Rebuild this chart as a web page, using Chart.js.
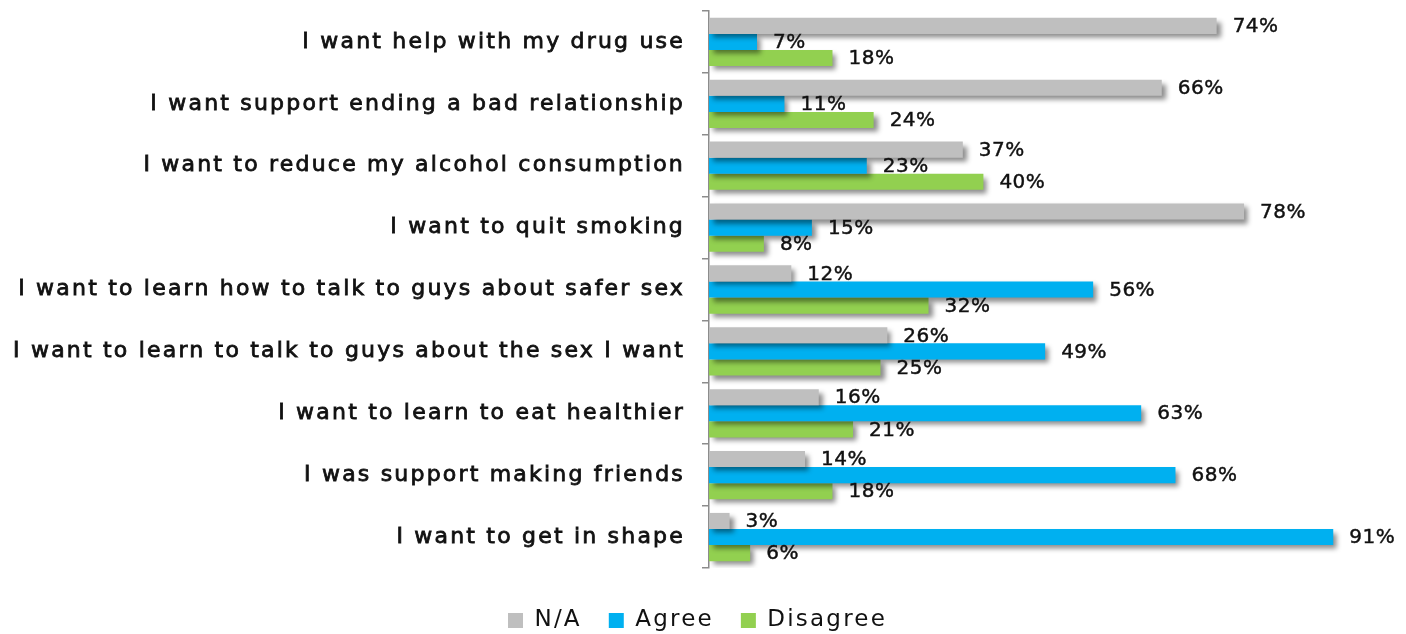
<!DOCTYPE html>
<html>
<head>
<meta charset="utf-8">
<script src="https://cdn.jsdelivr.net/npm/chart.js@4"></script>
<style>
  html, body { margin: 0; padding: 0; background: #fff; overflow: hidden; }
  #wrap { width: 1406px; height: 642px; }
</style>
</head>
<body>
<div id="wrap"><canvas id="wantsChart"></canvas></div>
<script>
// Survey answers per statement (percent)
const statements = [
  "I want help with my drug use",
  "I want support ending a bad relationship",
  "I want to reduce my alcohol consumption",
  "I want to quit smoking",
  "I want to learn how to talk to guys about safer sex",
  "I want to learn to talk to guys about the sex I want",
  "I want to learn to eat healthier",
  "I was support making friends",
  "I want to get in shape",
];
const naValues = [74, 66, 37, 78, 12, 26, 16, 14, 3];
const agreeValues = [7, 11, 23, 15, 56, 49, 63, 68, 91];
const disagreeValues = [18, 24, 40, 8, 32, 25, 21, 18, 6];

const FONT = "'DejaVu Sans', sans-serif";
const INK = "#111";

// wide, airy lettering for axis and legend text
const wideText = {
  id: "wideText",
  beforeInit(chart) { chart.ctx.letterSpacing = "2.2px"; },
  beforeUpdate(chart) { chart.ctx.letterSpacing = "2.2px"; },
  beforeDraw(chart) { chart.ctx.letterSpacing = "2.2px"; },
};

// soft drop shadow under every bar
const barShadow = {
  id: "barShadow",
  beforeDatasetDraw(chart) {
    const c = chart.ctx;
    c.save();
    c.shadowColor = "rgba(0,0,0,0.45)";
    c.shadowBlur = 5;
    c.shadowOffsetX = 4;
    c.shadowOffsetY = 4;
  },
  afterDatasetDraw(chart) {
    chart.ctx.restore();
  },
};

// percent labels to the right of each bar
const valueLabels = {
  id: "valueLabels",
  afterDatasetsDraw(chart) {
    const c = chart.ctx;
    c.save();
    c.letterSpacing = "0.5px";
    c.font = "20px " + FONT;
    c.fillStyle = INK;
    c.strokeStyle = INK;
    c.lineWidth = 0.45;
    c.textAlign = "left";
    c.textBaseline = "middle";
    chart.data.datasets.forEach((ds, i) => {
      chart.getDatasetMeta(i).data.forEach((bar, j) => {
        const txt = ds.data[j] + "%";
        c.fillText(txt, bar.x + 16, bar.y + 1);
        c.strokeText(txt, bar.x + 16, bar.y + 1);
      });
    });
    c.restore();
  },
};

new Chart(document.getElementById("wantsChart"), {
  type: "bar",
  data: {
    labels: statements,
    datasets: [
      { label: "N/A", data: naValues, backgroundColor: "#bfbfbf" },
      { label: "Agree", data: agreeValues, backgroundColor: "#00b0f0" },
      { label: "Disagree", data: disagreeValues, backgroundColor: "#92d050" },
    ],
  },
  options: {
    indexAxis: "y",
    responsive: true,
    maintainAspectRatio: false,
    animation: false,
    categoryPercentage: 0.78,
    barPercentage: 1,
    layout: { padding: { top: 11, right: 11, bottom: 0, left: 0 } },
    plugins: {
      legend: {
        position: "bottom",
        labels: {
          boxWidth: 15,
          boxHeight: 15,
          padding: 27,
          color: INK,
          font: { family: FONT, size: 23 },
        },
      },
      tooltip: { enabled: false },
    },
    scales: {
      x: {
        min: 0,
        max: 100,
        grid: { display: false },
        border: { display: false },
        ticks: { display: false },
        afterFit(scale) { scale.height = 14; },
      },
      y: {
        afterFit(scale) {
          scale.width = 709;
          scale.paddingTop = 0;
          scale.paddingBottom = 0;
        },
        border: { display: true, color: "#8c8c8c", width: 1.5 },
        grid: { drawOnChartArea: false, tickLength: 7, color: "#8c8c8c", lineWidth: 1.5 },
        ticks: {
          padding: 17,
          color: INK,
          textStrokeColor: INK,
          textStrokeWidth: 0.8,
          font: { family: FONT, size: 22 },
        },
      },
    },
  },
  plugins: [wideText, barShadow, valueLabels],
});
</script>
</body>
</html>
